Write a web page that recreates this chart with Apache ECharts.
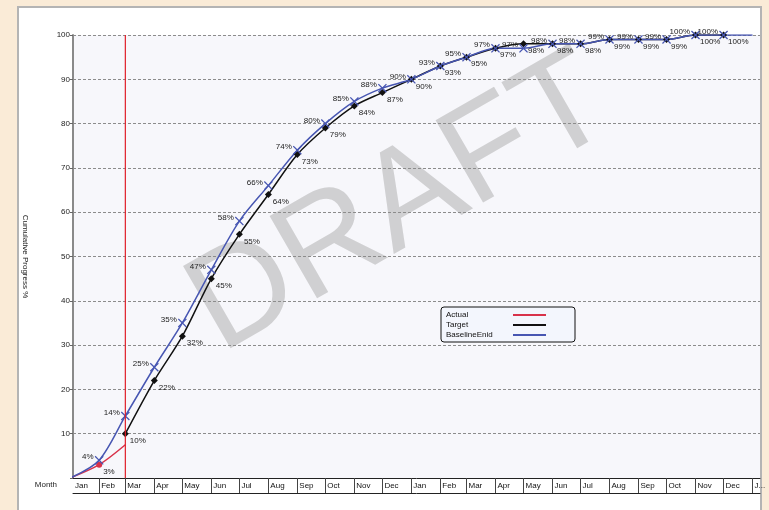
<!DOCTYPE html>
<html>
<head>
<meta charset="utf-8">
<script src="https://cdn.jsdelivr.net/npm/echarts@6/dist/echarts.min.js"></script>
<style>
  html, body { margin: 0; padding: 0; background: #faebd7; width: 769px; height: 510px; overflow: hidden; }
  #panel { position: absolute; left: 17px; top: 6px; width: 745px; height: 520px; box-sizing: border-box;
           background: #fff; border: 2px solid #b4b4b4; }
  #chart { position: absolute; left: 0; top: 0; width: 769px; height: 510px; }
</style>
</head>
<body>
<div id="panel"></div>
<div id="chart"></div>
<script>
const monthNames = ['Jan', 'Feb', 'Mar', 'Apr', 'May', 'Jun', 'Jul', 'Aug', 'Sep', 'Oct', 'Nov', 'Dec'];
const pointDates = [
  '2021-01-01', '2021-02-01', '2021-03-01', '2021-04-01', '2021-05-01', '2021-06-01', '2021-07-01',
  '2021-08-01', '2021-09-01', '2021-10-01', '2021-11-01', '2021-12-01', '2022-01-01', '2022-02-01',
  '2022-03-01', '2022-04-01', '2022-05-01', '2022-06-01', '2022-07-01', '2022-08-01', '2022-09-01',
  '2022-10-01', '2022-11-01', '2022-12-01', '2023-01-01'
];
const baseline = [0, 4, 14, 25, 35, 47, 58, 66, 74, 80, 85, 88, 90, 93, 95, 97, 97, 98, 98, 99, 99, 99, 100, 100, 100];
const target = [null, null, 10, 22, 32, 45, 55, 64, 73, 79, 84, 87, 90, 93, 95, 97, 98, 98, 98, 99, 99, 99, 100, 100, null];
const actual = [0, 3, 7.5];
const axisStart = '2021-01-04';
const axisEnd = '2023-01-09';
const statusDate = '2021-03-01';
const statusRange = [0, 100];

const t = s => Date.parse(s + 'T00:00:00Z');
const FONT = 'Liberation Sans';

function points(values, shown) {
  const out = [];
  values.forEach((v, i) => {
    if (v == null) return;
    const item = { value: [t(pointDates[i]), v] };
    if (!shown(i)) {
      item.symbol = 'none';
      item.label = { show: false };
    }
    out.push(item);
  });
  return out;
}

const tickValues = pointDates.slice(1).map(t);
const labelValues = [t(axisStart)].concat(tickValues);

const crossPath = 'path://M0,1L1,0L5,4L9,0L10,1L6,5L10,9L9,10L5,6L1,10L0,9L4,5Z';
const pct = p => p.value[1] + '%';

const chart = echarts.init(document.getElementById('chart'), null, { renderer: 'canvas' });

chart.setOption({
  animation: false,
  textStyle: { fontFamily: FONT },
  grid: { left: 73, right: 9, top: 35, bottom: 32, show: true, backgroundColor: '#f7f7fb', borderWidth: 0, z: 0 },
  graphic: [{
    type: 'text', x: 401, y: 206, rotation: Math.PI / 6, z: 1, silent: true,
    style: { text: 'DRAFT', fontSize: 138, fontFamily: FONT, fill: '#d0d0d2', align: 'center', verticalAlign: 'middle' }
  }],
  legend: {
    data: ['Actual', 'Target', 'BaselineEnid'],
    orient: 'vertical', left: 441, top: 307, align: 'right',
    icon: 'rect', itemWidth: 33, itemHeight: 2, itemGap: 2,
    padding: [4, 29, 3, 5],
    backgroundColor: '#f3f6fd', borderColor: '#111', borderWidth: 1, borderRadius: 3,
    formatter: name => '{n|' + name + '}',
    textStyle: {
      fontSize: 8, color: '#111', fontFamily: FONT,
      rich: { n: { width: 62, align: 'left', fontSize: 8, color: '#111', fontFamily: FONT } }
    }
  },
  xAxis: [{
    type: 'value', position: 'bottom', z: 2,
    min: t(axisStart), max: t(axisEnd),
    name: 'Month', nameLocation: 'start', nameGap: 16,
    nameTextStyle: { fontSize: 8, color: '#222', verticalAlign: 'top', padding: [3, 0, 0, 0] },
    axisLine: { lineStyle: { color: '#222', width: 1 } },
    axisTick: { show: true, customValues: tickValues, length: 15, lineStyle: { color: '#444' } },
    axisLabel: {
      customValues: labelValues, align: 'left', padding: [0, 0, 0, 2], margin: 4,
      fontSize: 8, color: '#111', showMaxLabel: true, showMinLabel: true, hideOverlap: false,
      formatter: v => {
        const d = new Date(v);
        if (d.getUTCFullYear() === 2023) return 'J...';
        return monthNames[d.getUTCMonth()];
      }
    },
    splitLine: { show: false }
  }, {
    type: 'value', position: 'bottom', offset: 15, z: 2,
    min: t(axisStart), max: t(axisEnd),
    axisLine: { show: true, lineStyle: { color: '#222', width: 1 } },
    axisTick: { show: false }, axisLabel: { show: false }, splitLine: { show: false }
  }],
  yAxis: {
    type: 'value', min: 0, max: 100, interval: 10, z: 2,
    name: 'Cumulative Progress %', nameLocation: 'middle', nameRotate: -90, nameGap: 44,
    nameTextStyle: { fontSize: 8, color: '#222' },
    axisLine: { show: true, lineStyle: { color: '#8a8a8a', width: 2 } },
    axisTick: { show: true, length: 3, lineStyle: { color: '#666' } },
    axisLabel: { fontSize: 8, color: '#222', margin: 3, formatter: v => (v === 0 ? '' : v) },
    splitLine: { lineStyle: { type: [3, 2], color: '#8c8c8c' } }
  },
  series: [{
    name: 'Actual', type: 'line', z: 3, smooth: 0.3,
    color: '#d8324a', lineStyle: { width: 1.5 },
    symbol: 'circle', symbolSize: 6,
    label: { show: true, position: 'right', offset: [-4, 7], fontSize: 8, color: '#222', formatter: pct },
    data: points(actual, i => i === 1)
  }, {
    name: 'Target', type: 'line', z: 3, smooth: 0.3,
    color: '#111', lineStyle: { width: 1.5 },
    symbol: 'diamond', symbolSize: 7,
    label: { show: true, position: 'right', offset: [-4, 7], fontSize: 8, color: '#222', formatter: pct },
    data: points(target, () => true)
  }, {
    name: 'BaselineEnid', type: 'line', z: 3, smooth: 0.3,
    color: '#4756b2', lineStyle: { width: 1.5 },
    symbol: crossPath, symbolSize: 9,
    label: { show: true, position: 'left', distance: 1, offset: [0, -3], fontSize: 8, color: '#222', formatter: pct },
    data: points(baseline, i => i > 0 && i < baseline.length - 1)
  }, {
    // status date line
    name: 'Status', type: 'line', z: 6, silent: true, clip: false,
    color: '#e01e28', lineStyle: { width: 1.2, color: '#e01e28' },
    symbol: 'none', label: { show: false },
    data: statusRange.map(v => [t(statusDate), v])
  }]
});
</script>
</body>
</html>
